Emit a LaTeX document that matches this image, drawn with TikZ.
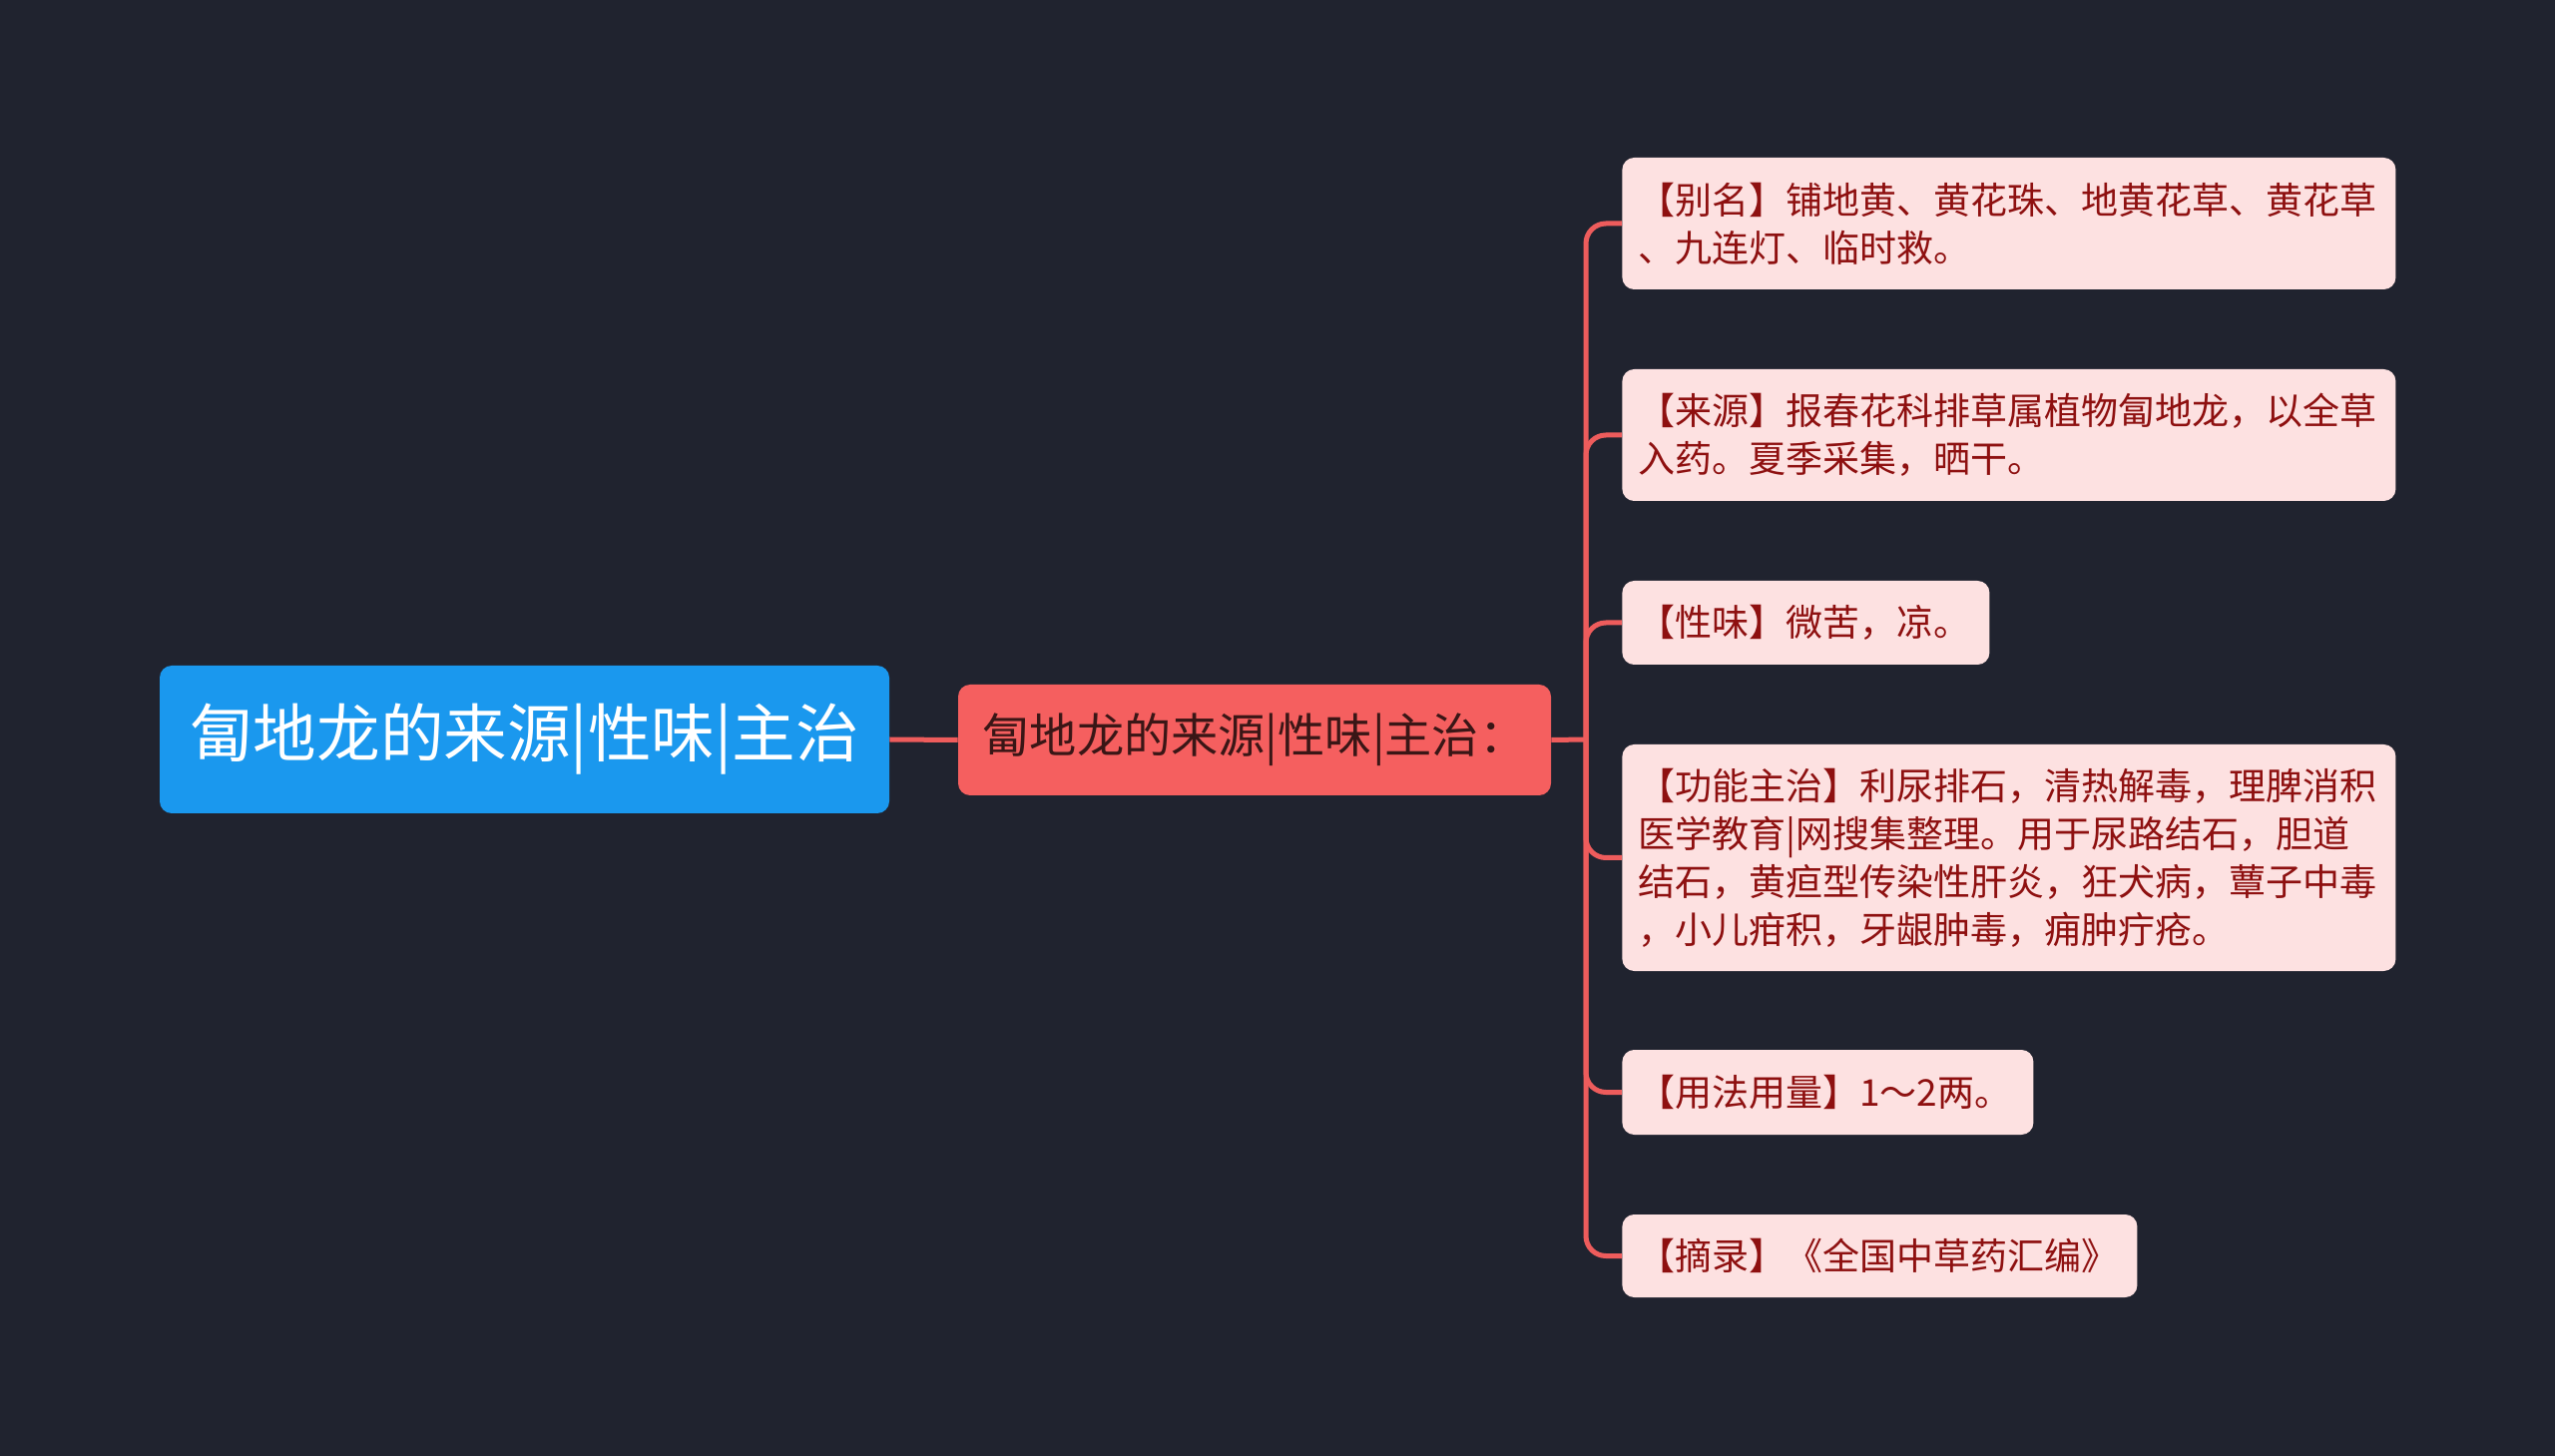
\documentclass[tikz,border=0pt]{standalone}
\usepackage{fontspec}
\setmainfont{Noto Sans CJK SC}
\definecolor{bgcol}{HTML}{20232F}
\definecolor{rootblue}{HTML}{1A98EE}
\definecolor{subred}{HTML}{F55F5F}
\definecolor{subtext}{HTML}{3A1616}
\definecolor{leafpink}{HTML}{FDE1E1}
\definecolor{leafred}{HTML}{8E1010}
\definecolor{linered}{HTML}{EE5C5C}
\begin{document}
\begin{tikzpicture}[x=0.5pt,y=-0.5pt,
  rootbox/.style={fill=rootblue, text=white, rounded corners=6pt, inner sep=0pt,
    minimum width=365.5pt, minimum height=74pt, font=\fontsize{31.8pt}{36pt}\selectfont},
  subbox/.style={fill=subred, text=subtext, rounded corners=6pt, inner sep=0pt,
    minimum width=297pt, minimum height=55.5pt, font=\fontsize{23.6pt}{28pt}\selectfont},
  leafbox/.style={fill=leafpink, text=leafred, rounded corners=6pt, anchor=west, align=left,
    inner xsep=8pt, inner ysep=3pt, font=\fontsize{18.5pt}{24pt}\selectfont},
  conn/.style={draw=linered, line width=2.5pt}]
\fill[bgcol] (0,0) rectangle (2560,1459);
\useasboundingbox (0,0) rectangle (2560,1459);

\node[rootbox] (root) at (525.5,741) {匐地龙的来源|性味|主治};
\node[subbox] (sub) at (1257,741.5) {匐地龙的来源|性味|主治：};

\node[leafbox, text width=371.5pt, minimum height=66pt] (l1) at (1625,224)
  {【别名】铺地黄、黄花珠、地黄花草、黄花草\\、九连灯、临时救。};
\node[leafbox, text width=371.5pt, minimum height=66pt] (l2) at (1625,436)
  {【来源】报春花科排草属植物匐地龙，以全草\\入药。夏季采集，晒干。};
\node[leafbox, text width=168pt, minimum height=42pt] (l3) at (1625,624)
  {【性味】微苦，凉。};
\node[leafbox, text width=371.5pt, minimum height=113.5pt] (l4) at (1625,859.5)
  {【功能主治】利尿排石，清热解毒，理脾消积\\医学教育|网搜集整理。用于尿路结石，胆道\\结石，黄疸型传染性肝炎，狂犬病，蕈子中毒\\，小儿疳积，牙龈肿毒，痈肿疔疮。};
\node[leafbox, text width=190pt, minimum height=42.5pt] (l5) at (1625,1094.5)
  {【用法用量】1～2两。};
\node[leafbox, text width=242pt, minimum height=41.5pt] (l6) at (1625,1258.5)
  {【摘录】《全国中草药汇编》};

\coordinate (j) at (1589,741);
\draw[conn] (root.east) -- (sub.west);
\draw[conn] (sub.east) -- (j);
\foreach \n in {l1,l2,l3,l4,l5,l6}
  \draw[conn, rounded corners=10pt] (j) |- (\n.west);
\end{tikzpicture}
\end{document}
